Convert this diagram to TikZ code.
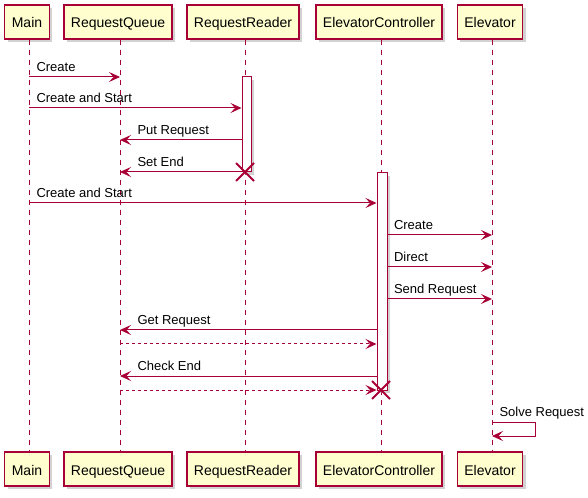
\documentclass[tikz,border=0pt]{standalone}
\usepackage{fontspec}
\setmainfont{Liberation Sans}
\usepackage{tikz}
\usetikzlibrary{arrows.meta,shadows,fit}
\definecolor{umlred}{HTML}{A80036}
\definecolor{umlfill}{HTML}{FEFECE}

\begin{document}
\begin{tikzpicture}[x=0.75pt,y=-0.75pt,
    >={Stealth[length=8.25pt,width=7.5pt,inset=3.4pt]},
    shade/.style={drop shadow={shadow xshift=2.2pt,shadow yshift=-2.2pt,fill=black!35,opacity=0.5}},
    part/.style={draw=umlred,fill=umlfill,line width=0.95pt,shade,
      minimum height=25.5pt,inner xsep=5.25pt,text height=9pt,text depth=0pt,
      font=\fontsize{10.5}{12}\selectfont},
    bar/.style={draw=umlred,fill=white,line width=0.75pt,inner sep=0pt,shade},
    life/.style={umlred,line width=0.75pt,dash pattern=on 3.75pt off 3.75pt},
    msg/.style={umlred,line width=0.75pt,->},
    ret/.style={msg,dash pattern=on 2.25pt off 2.25pt},
    lbl/.style={anchor=base west,inner sep=0pt,text=black,font=\fontsize{9.75}{11}\selectfont},
    kill/.style={umlred,line width=1.5pt}]
    \useasboundingbox (0,0) rectangle (588,498);

    % participants, top and bottom
    \node[part] (mainTop)  at (27,22)  {Main};
    \node[part] (queueTop) at (118,22) {RequestQueue};
    \node[part] (readerTop) at (243,22) {RequestReader};
    \node[part] (ctrlTop)  at (379,22) {ElevatorController};
    \node[part] (elevTop)  at (490,22) {Elevator};

    \node[part] (mainBot)  at (27,469)  {Main};
    \node[part] (queueBot) at (118,469) {RequestQueue};
    \node[part] (readerBot) at (243,469) {RequestReader};
    \node[part] (ctrlBot)  at (379,469) {ElevatorController};
    \node[part] (elevBot)  at (490,469) {Elevator};

    % lifelines
    \foreach \p in {main,queue,reader,ctrl,elev} {
      \path ([xshift=1.5pt]\p Top.south) coordinate (\p);
      \draw[life] (\p) -- (\p |- \p Bot.north);
    }

    % activations
    \node[bar,fit={(242,77) (251,172)}] (readerBar) {};
    \node[bar,fit={(377,173) (387,390)}] (ctrlBar) {};

    \draw[msg] (main |- 0,77) -- (queue |- 0,77)
      node[lbl,pos=0,xshift=5.25pt,yshift=4pt] {Create};
    \draw[msg] (main |- 0,108) -- (readerBar.west |- 0,108)
      node[lbl,pos=0,xshift=5.25pt,yshift=4pt] {Create and Start};
    \draw[msg] (readerBar.west |- 0,140) -- (queue |- 0,140)
      node[lbl,pos=1,xshift=12.75pt,yshift=4pt] {Put Request};
    \draw[msg] (readerBar.west |- 0,172) -- (queue |- 0,172)
      node[lbl,pos=1,xshift=12.75pt,yshift=4pt] {Set End};
    \draw[kill] (reader |- 0,172) +(-9,-9) -- +(9,9) +(-9,9) -- +(9,-9);

    \draw[msg] (main |- 0,203) -- (ctrlBar.west |- 0,203)
      node[lbl,pos=0,xshift=5.25pt,yshift=4pt] {Create and Start};
    \draw[msg] (ctrlBar.east |- 0,235) -- (elev |- 0,235)
      node[lbl,pos=0,xshift=4.5pt,yshift=4pt] {Create};
    \draw[msg] (ctrlBar.east |- 0,267) -- (elev |- 0,267)
      node[lbl,pos=0,xshift=4.5pt,yshift=4pt] {Direct};
    \draw[msg] (ctrlBar.east |- 0,299) -- (elev |- 0,299)
      node[lbl,pos=0,xshift=4.5pt,yshift=4pt] {Send Request};

    \draw[msg] (ctrlBar.west |- 0,330) -- (queue |- 0,330)
      node[lbl,pos=1,xshift=12.75pt,yshift=4pt] {Get Request};
    \draw[ret] (queue |- 0,344) -- (ctrlBar.west |- 0,344);
    \draw[msg] (ctrlBar.west |- 0,376) -- (queue |- 0,376)
      node[lbl,pos=1,xshift=12.75pt,yshift=4pt] {Check End};
    \draw[ret] (queue |- 0,390) -- (ctrlBar.west |- 0,390);
    \draw[kill] (ctrl |- 0,390) +(-9,-9) -- +(9,9) +(-9,9) -- +(9,-9);

    % self call
    \draw[msg] (elev |- 0,422) -- ++(43,0)
      node[lbl,pos=0,xshift=5.25pt,yshift=4pt] {Solve Request}
      -- ++(0,14) -- (elev |- 0,436);
\end{tikzpicture}
\end{document}
